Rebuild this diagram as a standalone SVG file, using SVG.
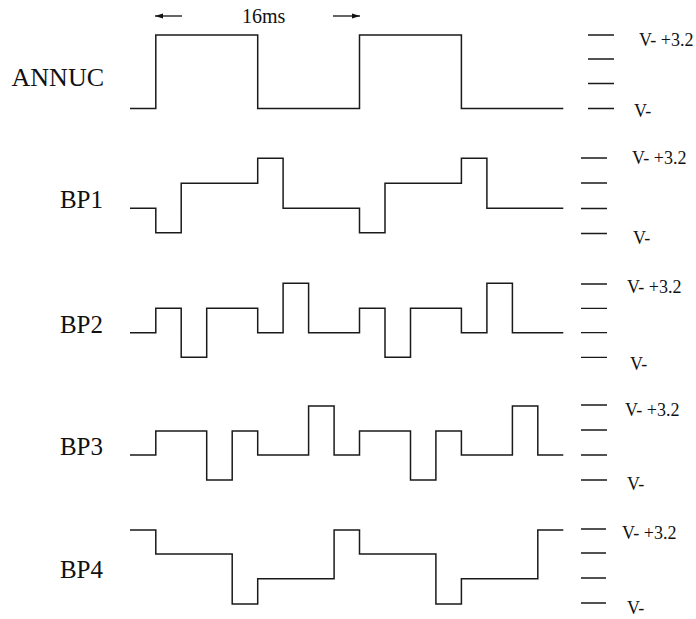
<svg xmlns="http://www.w3.org/2000/svg" width="696" height="619" viewBox="0 0 696 619">
<style>
.wave{fill:none;stroke:#1a1a1a;stroke-width:1.5;stroke-linejoin:miter}
.tick{stroke:#1a1a1a;stroke-width:1.3}
.lbl{font-family:"Liberation Serif","Times New Roman",serif;fill:#111}
.big{font-size:25px}
.vl{font-size:18px}
</style>
<defs>
<marker id="ah" markerWidth="9" markerHeight="6" refX="8" refY="3" orient="auto" markerUnits="userSpaceOnUse">
<path d="M0,0.5 L8,3 L0,5.5 Z" fill="#111"/>
</marker>
</defs>
<rect width="696" height="619" fill="#fff"/>
<g id="connectors">
<line x1="182" y1="16" x2="155" y2="16" stroke="#111" stroke-width="1.3" marker-end="url(#ah)"/>
<line x1="333" y1="16" x2="360" y2="16" stroke="#111" stroke-width="1.3" marker-end="url(#ah)"/>
</g>
<text class="lbl" x="242" y="23" font-size="20">16ms</text>
<g id="annuc">
<text class="lbl" x="104" y="86" font-size="26" text-anchor="end">ANNUC</text>
<path class="wave" d="M130 108.5 H155.8 V35 H257.7 V108.5 H359.5 V35 H461.4 V108.5 H563.3"/>
<path class="tick" d="M588 35 H614 M588 59 H614 M588 83.5 H614 M588 108.5 H614"/>
<text class="lbl vl" x="639" y="46">V- +3.2</text>
<text class="lbl vl" x="634" y="117">V-</text>
</g>
<g id="bp1">
<text class="lbl big" x="103" y="208" text-anchor="end">BP1</text>
<path class="wave" d="M130 208.3 H155.8 V232.7 H181.2 V183.3 H257.7 V158.3 H283.1 V208.3 H359.5 V232.7 H385 V183.3 H461.4 V158.3 H486.9 V208.3 H563.3"/>
<path class="tick" d="M581 158 H607 M581 183 H607 M581 208.5 H607 M581 233.5 H607"/>
<text class="lbl vl" x="632" y="164">V- +3.2</text>
<text class="lbl vl" x="633" y="244">V-</text>
</g>
<g id="bp2">
<text class="lbl big" x="103" y="333" text-anchor="end">BP2</text>
<path class="wave" d="M130 332.7 H155.8 V308.3 H181.2 V357.3 H206.7 V308.3 H257.7 V332.7 H283.1 V283.3 H308.6 V332.7 H359.5 V308.3 H385 V357.3 H410.5 V308.3 H461.4 V332.7 H486.9 V283.3 H512.4 V332.7 H563.3"/>
<path class="tick" d="M581 284 H607 M581 308.3 H607 M581 332.7 H607 M581 357.3 H607"/>
<text class="lbl vl" x="627" y="293">V- +3.2</text>
<text class="lbl vl" x="630" y="370">V-</text>
</g>
<g id="bp3">
<text class="lbl big" x="103" y="455" text-anchor="end">BP3</text>
<path class="wave" d="M130 455 H155.8 V431 H206.7 V480 H232.2 V431 H257.7 V455 H308.6 V406 H334.1 V455 H359.5 V431 H410.5 V480 H435.9 V431 H461.4 V455 H512.4 V406 H537.8 V455 H563.3"/>
<path class="tick" d="M581 405 H607 M581 430 H607 M581 455 H607 M581 480 H607"/>
<text class="lbl vl" x="625" y="416">V- +3.2</text>
<text class="lbl vl" x="627" y="490">V-</text>
</g>
<g id="bp4">
<text class="lbl big" x="103" y="578" text-anchor="end">BP4</text>
<path class="wave" d="M130 530 H155.8 V554 H232.2 V604 H257.7 V578.7 H334.1 V530 H359.5 V554 H435.9 V604 H461.4 V578.7 H537.8 V530 H563.3"/>
<path class="tick" d="M581 529 H606 M581 553 H606 M581 578 H606 M581 603 H606"/>
<text class="lbl vl" x="622" y="539">V- +3.2</text>
<text class="lbl vl" x="627" y="614">V-</text>
</g>
</svg>
